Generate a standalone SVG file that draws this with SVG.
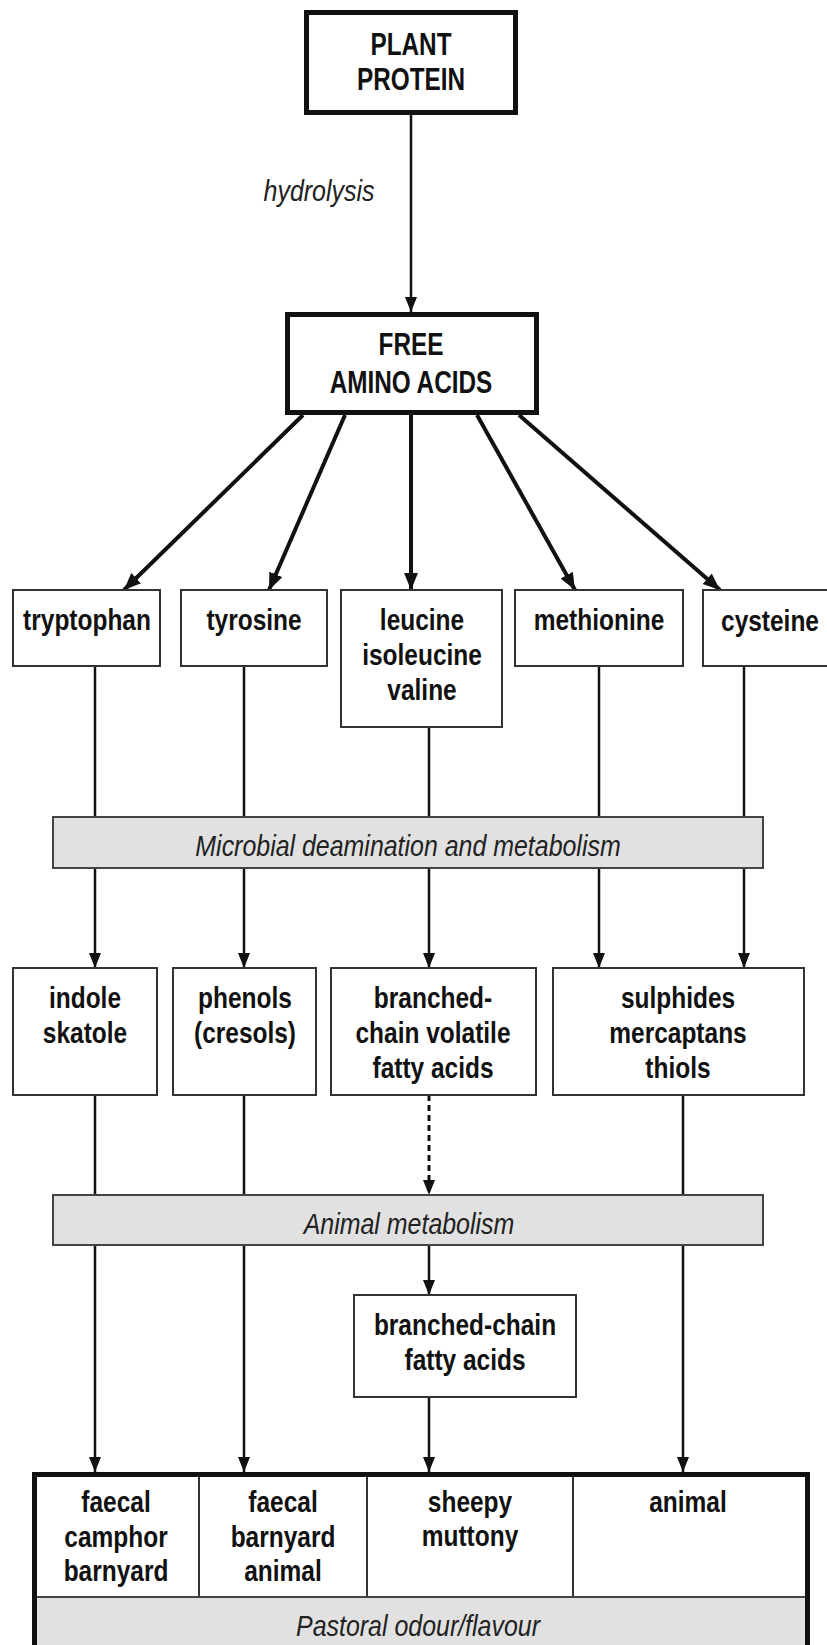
<svg xmlns="http://www.w3.org/2000/svg" width="827" height="1645" viewBox="0 0 827 1645">
<style>
  .b { font-family: "Liberation Sans", Arial, sans-serif; font-weight: bold; font-size: 29.5px; fill: #111; text-anchor: middle; }
  .c { font-family: "Liberation Sans", Arial, sans-serif; font-weight: bold; font-size: 32px; fill: #111; text-anchor: middle; }
  .i { font-family: "Liberation Sans", Arial, sans-serif; font-style: italic; font-size: 29px; fill: #222; text-anchor: middle; }
  .thick { fill: #fff; stroke: #111; stroke-width: 5; }
  .box { fill: #fff; stroke: #333; stroke-width: 2; }
  .bar { fill: #e1e1e1; stroke: #444; stroke-width: 2; }
  .ln { stroke: #111; stroke-width: 2.5; fill: none; }
  .lnb { stroke: #111; stroke-width: 4; fill: none; }
  .arr { marker-end: url(#ah); }
  .arrb { marker-end: url(#ahb); }
  .dash { stroke-dasharray: 6 4; stroke-width: 3; }
</style>
<defs>
  <marker id="ah" markerUnits="userSpaceOnUse" markerWidth="16" markerHeight="14" refX="15" refY="6" orient="auto">
    <path d="M0,0 L15,6 L0,12 z" fill="#111"/>
  </marker>
  <marker id="ahb" markerUnits="userSpaceOnUse" markerWidth="18" markerHeight="16" refX="17" refY="7" orient="auto">
    <path d="M0,0 L17,7 L0,14 z" fill="#111"/>
  </marker>
</defs>
<rect width="827" height="1645" fill="#fff"/>

<g id="connectors">
  <line class="ln arr" x1="411" y1="115" x2="411" y2="312"/>
  <text class="i" transform="translate(319 201) scale(0.86 1)">hydrolysis</text>
  <line class="lnb arrb" x1="303" y1="415" x2="124" y2="590"/>
  <line class="lnb arrb" x1="345" y1="415" x2="269" y2="590"/>
  <line class="lnb arrb" x1="411" y1="415" x2="411" y2="590"/>
  <line class="lnb arrb" x1="477" y1="415" x2="575" y2="590"/>
  <line class="lnb arrb" x1="519" y1="415" x2="720" y2="590"/>
  <line class="ln" x1="95" y1="666" x2="95" y2="817"/>
  <line class="ln" x1="244" y1="666" x2="244" y2="817"/>
  <line class="ln" x1="429" y1="727" x2="429" y2="817"/>
  <line class="ln" x1="599" y1="666" x2="599" y2="817"/>
  <line class="ln" x1="744" y1="666" x2="744" y2="817"/>
  <line class="ln arr" x1="95" y1="868" x2="95" y2="968"/>
  <line class="ln arr" x1="244" y1="868" x2="244" y2="968"/>
  <line class="ln arr" x1="429" y1="868" x2="429" y2="968"/>
  <line class="ln arr" x1="599" y1="868" x2="599" y2="968"/>
  <line class="ln arr" x1="744" y1="868" x2="744" y2="968"/>
  <line class="ln" x1="95" y1="1095" x2="95" y2="1195"/>
  <line class="ln" x1="244" y1="1095" x2="244" y2="1195"/>
  <line class="ln dash arr" x1="429" y1="1095" x2="429" y2="1195"/>
  <line class="ln" x1="683" y1="1095" x2="683" y2="1195"/>
  <line class="ln arr" x1="429" y1="1245" x2="429" y2="1295"/>
  <line class="ln arr" x1="95" y1="1245" x2="95" y2="1472"/>
  <line class="ln arr" x1="244" y1="1245" x2="244" y2="1472"/>
  <line class="ln arr" x1="429" y1="1397" x2="429" y2="1472"/>
  <line class="ln arr" x1="683" y1="1245" x2="683" y2="1472"/>
</g>

<g id="plant-protein">
  <rect class="thick" x="306.5" y="12.5" width="209" height="100"/>
  <text class="c" transform="translate(411 55) scale(0.76 1)">PLANT</text>
  <text class="c" transform="translate(411 90) scale(0.76 1)">PROTEIN</text>
</g>
<g id="free-amino-acids">
  <rect class="thick" x="287.5" y="314.5" width="249" height="98"/>
  <text class="c" transform="translate(411 355) scale(0.76 1)">FREE</text>
  <text class="c" transform="translate(411 393) scale(0.76 1)">AMINO ACIDS</text>
</g>

<g id="tryptophan">
  <rect class="box" x="13" y="590" width="147" height="76"/>
  <text class="b" transform="translate(87 630) scale(0.83 1)">tryptophan</text>
</g>
<g id="tyrosine">
  <rect class="box" x="181" y="590" width="146" height="76"/>
  <text class="b" transform="translate(254 630) scale(0.83 1)">tyrosine</text>
</g>
<g id="leucine">
  <rect class="box" x="341" y="590" width="161" height="137"/>
  <text class="b" transform="translate(422 630) scale(0.83 1)">leucine</text>
  <text class="b" transform="translate(422 665) scale(0.83 1)">isoleucine</text>
  <text class="b" transform="translate(422 700) scale(0.83 1)">valine</text>
</g>
<g id="methionine">
  <rect class="box" x="515" y="590" width="168" height="76"/>
  <text class="b" transform="translate(599 630) scale(0.83 1)">methionine</text>
</g>
<g id="cysteine">
  <rect class="box" x="703" y="590" width="130" height="76"/>
  <text class="b" transform="translate(770 631) scale(0.83 1)">cysteine</text>
</g>

<g id="microbial">
  <rect class="bar" x="53" y="817" width="710" height="51"/>
  <text class="i" transform="translate(408 856) scale(0.86 1)">Microbial deamination and metabolism</text>
</g>

<g id="indole">
  <rect class="box" x="13" y="968" width="144" height="127"/>
  <text class="b" transform="translate(85 1008) scale(0.83 1)">indole</text>
  <text class="b" transform="translate(85 1043) scale(0.83 1)">skatole</text>
</g>
<g id="phenols">
  <rect class="box" x="173" y="968" width="143" height="127"/>
  <text class="b" transform="translate(245 1008) scale(0.83 1)">phenols</text>
  <text class="b" transform="translate(245 1043) scale(0.83 1)">(cresols)</text>
</g>
<g id="bcvfa">
  <rect class="box" x="331" y="968" width="205" height="127"/>
  <text class="b" transform="translate(433 1008) scale(0.83 1)">branched-</text>
  <text class="b" transform="translate(433 1043) scale(0.83 1)">chain volatile</text>
  <text class="b" transform="translate(433 1078) scale(0.83 1)">fatty acids</text>
</g>
<g id="sulphides">
  <rect class="box" x="553" y="968" width="251" height="127"/>
  <text class="b" transform="translate(678 1008) scale(0.83 1)">sulphides</text>
  <text class="b" transform="translate(678 1043) scale(0.83 1)">mercaptans</text>
  <text class="b" transform="translate(678 1078) scale(0.83 1)">thiols</text>
</g>

<g id="animal-metabolism">
  <rect class="bar" x="53" y="1195" width="710" height="50"/>
  <text class="i" transform="translate(409 1234) scale(0.86 1)">Animal metabolism</text>
</g>

<g id="bcfa">
  <rect class="box" x="354" y="1295" width="222" height="102"/>
  <text class="b" transform="translate(465 1335) scale(0.83 1)">branched-chain</text>
  <text class="b" transform="translate(465 1370) scale(0.83 1)">fatty acids</text>
</g>

<g id="pastoral">
  <rect x="37" y="1597" width="768" height="60" fill="#e1e1e1"/>
  <line x1="37" y1="1597" x2="805" y2="1597" stroke="#444" stroke-width="2"/>
  <line x1="199" y1="1477" x2="199" y2="1597" stroke="#333" stroke-width="2"/>
  <line x1="367" y1="1477" x2="367" y2="1597" stroke="#333" stroke-width="2"/>
  <line x1="573" y1="1477" x2="573" y2="1597" stroke="#333" stroke-width="2"/>
  <rect x="34.5" y="1474.5" width="773" height="220" fill="none" stroke="#111" stroke-width="5"/>
  <text class="b" transform="translate(116 1512) scale(0.83 1)">faecal</text>
  <text class="b" transform="translate(116 1547) scale(0.83 1)">camphor</text>
  <text class="b" transform="translate(116 1581) scale(0.83 1)">barnyard</text>
  <text class="b" transform="translate(283 1512) scale(0.83 1)">faecal</text>
  <text class="b" transform="translate(283 1547) scale(0.83 1)">barnyard</text>
  <text class="b" transform="translate(283 1581) scale(0.83 1)">animal</text>
  <text class="b" transform="translate(470 1512) scale(0.83 1)">sheepy</text>
  <text class="b" transform="translate(470 1546) scale(0.83 1)">muttony</text>
  <text class="b" transform="translate(688 1512) scale(0.83 1)">animal</text>
  <text class="i" transform="translate(418 1636) scale(0.86 1)">Pastoral odour/flavour</text>
</g>
</svg>
